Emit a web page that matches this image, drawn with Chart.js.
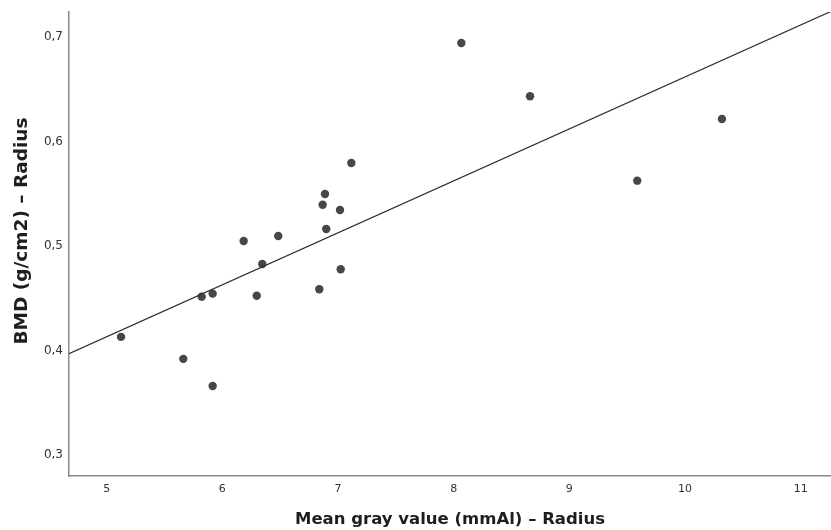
<!DOCTYPE html>
<html>
<head>
<meta charset="utf-8">
<script src="https://cdn.jsdelivr.net/npm/chart.js@4/dist/chart.umd.min.js"></script>
<style>
  html, body { margin: 0; padding: 0; background: #ffffff; }
  #wrap { width: 831px; height: 530px; position: relative; }
</style>
</head>
<body>
<div id="wrap"><canvas id="c" width="831" height="530"></canvas></div>
<script>
// Data
const meanGray = [5.124, 5.662, 5.916, 5.821, 5.916, 6.184, 6.297, 6.345, 6.483, 6.838,
                  6.867, 6.887, 6.898, 7.017, 7.023, 7.115, 8.066, 8.660, 9.587, 10.319];
const bmd      = [0.413, 0.392, 0.366, 0.4515, 0.4544, 0.5048, 0.4524, 0.4828, 0.5096, 0.4586,
                  0.5395, 0.5498, 0.5163, 0.5344, 0.4777, 0.5794, 0.6943, 0.6433, 0.5625, 0.6215];
// Fitted regression line endpoints (at the axis limits)
const fitX = [4.674, 11.262];
const fitY = [0.397, 0.7245];
// Tick labels
const xTickValues = [5, 6, 7, 8, 9, 10, 11];
const yTickValues = [0.3, 0.4, 0.5, 0.6, 0.7];
const xTitle = 'Mean gray value (mmAl) \u2013 Radius';
const yTitle = 'BMD (g/cm2) \u2013 Radius';

const points = meanGray.map((x, i) => ({ x: x, y: bmd[i] }));
const fitLine = fitX.map((x, i) => ({ x: x, y: fitY[i] }));

const yTitlePlugin = {
  id: 'yTitlePlugin',
  afterDraw(chart) {
    const ctx = chart.ctx;
    ctx.save();
    ctx.translate(22, 231);
    ctx.rotate(-Math.PI / 2);
    ctx.font = 'bold 18.5px "DejaVu Sans"';
    ctx.fillStyle = '#1e1e1e';
    ctx.textAlign = 'center';
    ctx.textBaseline = 'middle';
    ctx.fillText(yTitle, 0, 0);
    ctx.restore();
  }
};

new Chart(document.getElementById('c'), {
  type: 'scatter',
  data: {
    datasets: [
      {
        type: 'line',
        data: fitLine,
        borderColor: '#2b2b2b',
        borderWidth: 1.2,
        pointRadius: 0,
        fill: false,
        tension: 0
      },
      {
        data: points,
        backgroundColor: '#474747',
        borderColor: '#474747',
        borderWidth: 0,
        pointRadius: 4.2
      }
    ]
  },
  plugins: [yTitlePlugin],
  options: {
    responsive: false,
    animation: false,
    devicePixelRatio: 1,
    layout: { autoPadding: false, padding: { top: 12, right: 0, left: 0, bottom: 0 } },
    plugins: { legend: { display: false }, tooltip: { enabled: false } },
    scales: {
      x: {
        type: 'linear',
        min: 4.674,
        max: 11.262,
        grid: { display: false, drawTicks: false },
        border: { display: true, color: '#8a8a8a', width: 1.5 },
        afterBuildTicks: (s) => { s.ticks = xTickValues.map(v => ({ value: v })); },
        afterFit: (s) => { s.height = 54; s.paddingLeft = 0; s.paddingRight = 0; },
        ticks: {
          padding: 7,
          maxRotation: 0,
          autoSkip: false,
          color: '#333333',
          font: { family: 'DejaVu Sans', size: 11 },
          callback: (v) => String(v)
        },
        title: {
          display: true,
          text: xTitle,
          color: '#1e1e1e',
          padding: { top: 0, bottom: 0 },
          font: { family: 'DejaVu Sans', size: 16.5, weight: 'bold' }
        }
      },
      y: {
        type: 'linear',
        min: 0.2799,
        max: 0.7239,
        grid: { display: false, drawTicks: false },
        border: { display: true, color: '#8a8a8a', width: 1.5 },
        afterBuildTicks: (s) => { s.ticks = yTickValues.map(v => ({ value: v })); },
        afterFit: (s) => { s.width = 69; s.paddingTop = 0; s.paddingBottom = 0; },
        ticks: {
          padding: 6,
          autoSkip: false,
          color: '#333333',
          font: { family: 'DejaVu Sans', size: 12 },
          callback: (v) => v.toFixed(1).replace('.', ',')
        },
        title: { display: false }
      }
    }
  }
});
</script>
</body>
</html>
